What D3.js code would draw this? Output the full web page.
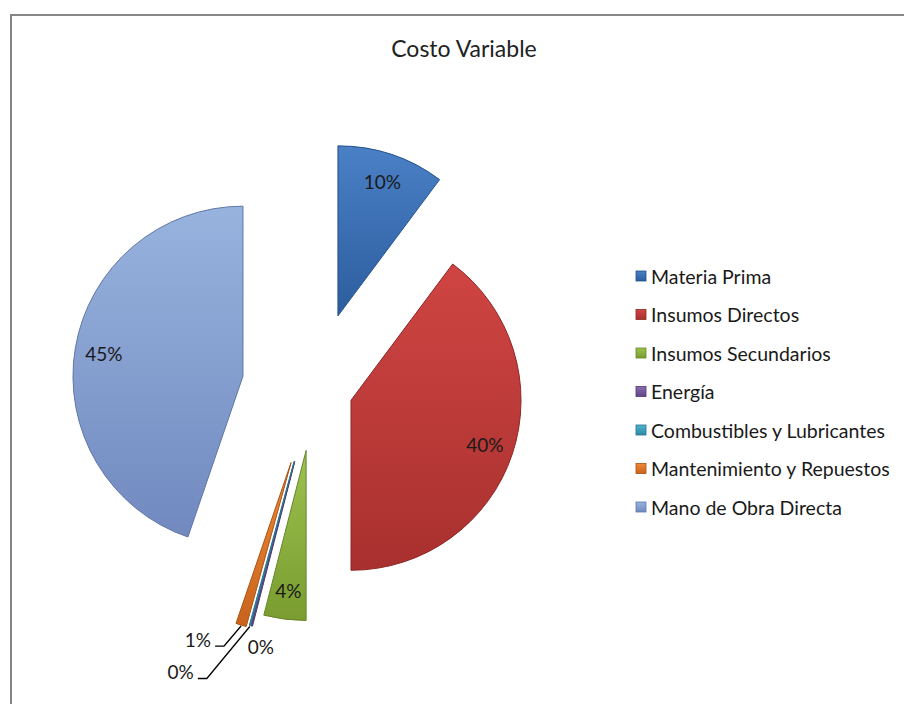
<!DOCTYPE html>
<html>
<head>
<meta charset="utf-8">
<script src="https://cdn.jsdelivr.net/npm/d3@7.9.0/dist/d3.min.js"></script>
<style>
  body { margin: 0; background: #fff; }
  svg { display: block; font-family: Lato, "Open Sans", sans-serif; }
</style>
</head>
<body>
<svg id="chart" width="904" height="704"></svg>
<script>
const categories = ['Materia Prima', 'Insumos Directos', 'Insumos Secundarios', 'Energía',
  'Combustibles y Lubricantes', 'Mantenimiento y Repuestos', 'Mano de Obra Directa'];
const values = [10.2, 39.8, 4.0, 0.15, 0.1, 1.0, 44.75];
// how far each slice is pulled out of the pie (Excel point explosion)
const explode = [76, 39, 63, 76, 76, 78, 72];

const colorTop = ['#4a80c6', '#cf4543', '#9cc24f', '#8a6db0', '#4fb3cf', '#f08a35', '#98b3de'];
const colorBot = ['#2c5d9e', '#a8302e', '#7a9c30', '#5f4685', '#2d8aa6', '#c9631c', '#7189bf'];
const colorEdge = ['#24508a', '#8e2624', '#66852a', '#4e3870', '#25768f', '#a95317', '#5e76a8'];

const svg = d3.select('#chart');
const defs = svg.append('defs');

categories.forEach((c, i) => {
  const g = defs.append('linearGradient').attr('id', 'g' + i)
    .attr('x1', 0).attr('y1', 0).attr('x2', 0).attr('y2', 1);
  g.append('stop').attr('offset', '0%').attr('stop-color', colorTop[i]);
  g.append('stop').attr('offset', '100%').attr('stop-color', colorBot[i]);
});

svg.append('rect').attr('width', 904).attr('height', 704).attr('fill', '#fff');
// chart area border (runs off the right and bottom edges)
svg.append('rect').attr('x', 11).attr('y', 15).attr('width', 920).attr('height', 720)
  .attr('fill', 'none').attr('stroke', '#868686').attr('stroke-width', 2);

svg.append('text').attr('x', 464).attr('y', 57)
  .attr('text-anchor', 'middle').attr('font-size', 23).attr('fill', '#222')
  .text('Costo Variable');

const cx = 314, cy = 388, R = 170;
const pie = d3.pie().sort(null).value(d => d);
const arcs = pie(values);
const arc = d3.arc().innerRadius(0).outerRadius(R);

const dir = a => [Math.sin(a), -Math.cos(a)];
const mid = d => (d.startAngle + d.endAngle) / 2;

const slices = svg.append('g').attr('transform', `translate(${cx},${cy})`);

slices.selectAll('path')
  .data(arcs)
  .join('path')
  .attr('transform', (d, i) => {
    const [ux, uy] = dir(mid(d));
    return `translate(${ux * explode[i]},${uy * explode[i]})`;
  })
  .attr('d', arc)
  .attr('fill', (d, i) => `url(#g${i})`)
  .attr('stroke', (d, i) => colorEdge[i])
  .attr('stroke-width', 1)
  .attr('stroke-linejoin', 'round');

const pct = v => Math.round(v) + '%';

// labels inside the big slices
slices.selectAll('text.inside')
  .data(arcs.filter(d => d.value >= 2))
  .join('text')
  .attr('class', 'inside')
  .attr('x', d => dir(mid(d))[0] * (explode[d.index] + R * 0.83))
  .attr('y', d => dir(mid(d))[1] * (explode[d.index] + R * 0.83))
  .attr('text-anchor', 'middle').attr('dominant-baseline', 'central')
  .attr('font-size', 19).attr('fill', '#1a1a1a')
  .text(d => pct(d.value));

// tiny slices: labels outside, two of them with leader lines
// offsets from the slice's outer tip: [dx, dy, leader?]
const outside = { 3: [-4, 21, false], 4: [-52, 53, true], 5: [-26, 21, true] };
arcs.filter(d => d.value < 2).forEach(d => {
  const [ux, uy] = dir(mid(d));
  const tx = ux * (explode[d.index] + R), ty = uy * (explode[d.index] + R);
  const [ox, oy, lead] = outside[d.index];
  const lx = tx + ox, ly = ty + oy;
  if (lead) {
    slices.append('path')
      .attr('d', d3.line()([[tx, ty + 1], [lx + 9, ly], [lx, ly]]))
      .attr('fill', 'none').attr('stroke', '#000').attr('stroke-width', 1.3);
    slices.append('text')
      .attr('x', lx - 4).attr('y', ly + 1)
      .attr('text-anchor', 'end')
      .attr('font-size', 19).attr('fill', '#1a1a1a')
      .text(pct(d.value));
  } else {
    slices.append('text')
      .attr('x', lx).attr('y', ly)
      .attr('dominant-baseline', 'central')
      .attr('font-size', 19).attr('fill', '#1a1a1a')
      .text(pct(d.value));
  }
});

// legend
const legend = svg.append('g').attr('transform', 'translate(636,276)');
const rows = legend.selectAll('g').data(categories).join('g')
  .attr('transform', (d, i) => `translate(0,${i * 38.5})`);
rows.append('rect').attr('x', 0).attr('y', -5).attr('width', 10).attr('height', 10)
  .attr('fill', (d, i) => `url(#g${i})`).attr('stroke', (d, i) => colorEdge[i]).attr('stroke-width', 0.8);
rows.append('text').attr('x', 15).attr('y', 0).attr('dominant-baseline', 'central')
  .attr('font-size', 19.5).attr('fill', '#1a1a1a').text(d => d);
</script>
</body>
</html>
